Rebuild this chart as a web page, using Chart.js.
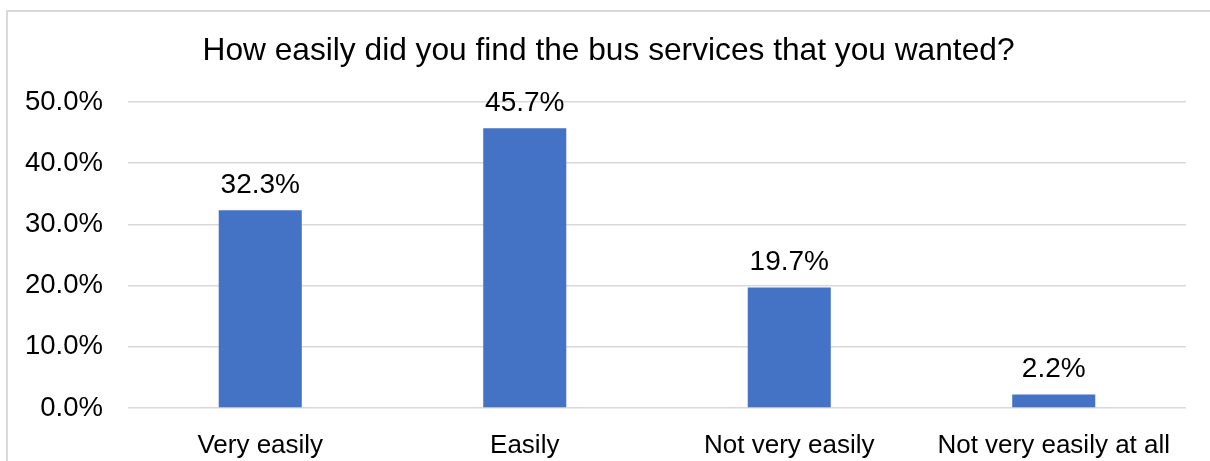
<!DOCTYPE html>
<html>
<head>
<meta charset="utf-8">
<title>Bus services survey</title>
<script src="https://cdn.jsdelivr.net/npm/chart.js@4"></script>
<style>
  html, body { margin: 0; padding: 0; background: #fff; overflow: hidden; }
  #frame {
    position: absolute; left: 6px; top: 10px;
    width: 1300px; height: 600px;
    border: 2px solid #d9d9d9; box-sizing: border-box;
  }
  #chart { position: absolute; left: 0; top: 0; }
</style>
</head>
<body>
<div id="frame"></div>
<canvas id="chart" width="1210" height="461"></canvas>
<script>
const categories = ['Very easily', 'Easily', 'Not very easily', 'Not very easily at all'];
const shares = [32.3, 45.7, 19.7, 2.2];
const yTicks = [0, 10, 20, 30, 40, 50];

const FONT = "'Liberation Sans', Arial, sans-serif";

// writes the percentage above each bar
const valueLabels = {
    id: 'valueLabels',
    afterDatasetsDraw(chart) {
        const ctx = chart.ctx;
        const meta = chart.getDatasetMeta(0);
        ctx.save();
        ctx.font = '28px ' + FONT;
        ctx.fillStyle = '#000';
        ctx.textAlign = 'center';
        ctx.textBaseline = 'alphabetic';
        meta.data.forEach((bar, i) => {
            ctx.fillText(shares[i].toFixed(1) + '%', bar.x, bar.y - 17.5);
        });
        ctx.restore();
    }
};

// centre the title on the framed box rather than the left edge of the canvas
const titleShift = {
    id: 'titleShift',
    afterLayout(chart) {
        if (chart.titleBlock) chart.titleBlock.left = 31;
    }
};

new Chart(document.getElementById('chart'), {
    type: 'bar',
    data: {
        labels: categories,
        datasets: [{
            data: shares,
            backgroundColor: '#4472C4',
            borderWidth: 0,
            barPercentage: 0.314,
            categoryPercentage: 1
        }]
    },
    options: {
        responsive: false,
        animation: false,
        layout: { padding: { left: 0, right: 24, top: 0, bottom: 0 } },
        plugins: {
            legend: { display: false },
            tooltip: { enabled: false },
            title: {
                display: true,
                text: 'How easily did you find the bus services that you wanted?',
                color: '#000',
                font: { family: FONT, size: 31.7, weight: 'normal' },
                padding: { top: 32, bottom: 32 }
            }
        },
        scales: {
            y: {
                min: 0,
                max: 50,
                afterFit(scale) { scale.width = 128; },
                afterBuildTicks(scale) { scale.ticks = yTicks.map(v => ({ value: v })); },
                grid: { color: '#d9d9d9', lineWidth: 1.5, drawTicks: false },
                border: { display: false },
                ticks: {
                    padding: 25,
                    color: '#000',
                    font: { family: FONT, size: 27.5 },
                    callback: v => v.toFixed(1) + '%'
                }
            },
            x: {
                afterFit(scale) { scale.height = 53; },
                grid: { display: false },
                border: { display: false },
                ticks: {
                    padding: 14,
                    color: '#000',
                    font: { family: FONT, size: 26 },
                    maxRotation: 0,
                    autoSkip: false
                }
            }
        }
    },
    plugins: [valueLabels, titleShift]
});
</script>
</body>
</html>
